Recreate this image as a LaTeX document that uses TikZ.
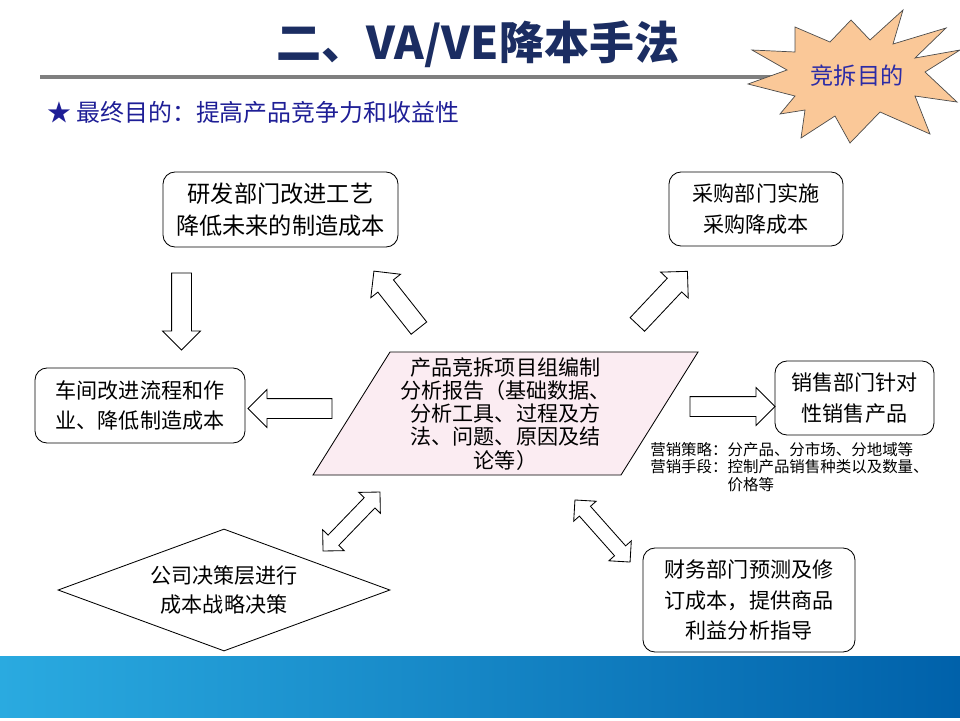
\documentclass[tikz,border=0pt]{standalone}
\usepackage{fontspec}
\setmainfont{Noto Sans CJK SC}
\usetikzlibrary{shapes.geometric,shapes.arrows}
\definecolor{titleblue}{HTML}{1B2D62}
\definecolor{starblue}{HTML}{1E1E96}
\definecolor{burst}{HTML}{FAC898}
\definecolor{burstink}{HTML}{2B2BA6}
\definecolor{rulegray}{HTML}{7F7F7F}
\definecolor{reportpink}{HTML}{FBECF2}
\definecolor{bandl}{HTML}{2AAAE0}
\definecolor{bandr}{HTML}{0061AA}
\tikzset{
  dept/.style={draw=black,fill=white,rounded corners=3mm,line width=0.6pt,align=center,inner sep=0pt,font=\fontsize{15}{21.5}\selectfont},
  board/.style={draw=black,fill=white,diamond,shape aspect=2.72,line width=0.6pt,align=center,inner sep=0pt,font=\fontsize{15}{21}\selectfont},
  reportbox/.style={draw=black,fill=reportpink,line width=0.6pt},
  onearrow/.style={single arrow,draw=black,fill=white,line width=0.6pt,inner xsep=0pt,inner ysep=2.375mm,single arrow head extend=2.25mm,single arrow tip angle=90},
  twoarrow/.style={double arrow,draw=black,fill=white,line width=0.6pt,inner xsep=0pt,inner ysep=1.75mm,double arrow head extend=1.9mm,double arrow tip angle=90},
  burstshape/.style={draw=black!70,fill=burst,line width=0.5pt},
  note/.style={align=left,inner sep=0pt,font=\fontsize{11}{12.5}\selectfont}
}
\begin{document}
\begin{tikzpicture}[x=0.25mm,y=-0.25mm]
  \useasboundingbox (0,0) rectangle (960,720);
  \shade[left color=bandl,right color=bandr] (0,656) rectangle (960,717);

  \node[font=\fontsize{32}{36}\selectfont\bfseries,text=titleblue] (title) at (478,44) {二、VA/VE降本手法};
  \draw[rulegray,line width=1.1mm] (40,77) -- (790,77);
  \draw[burstshape] (748,84) -- (787,70) -- (752,50) -- (795,52) -- (795,27) -- (830,42) -- (851,20)
    -- (870,40) -- (903,10) -- (893,44) -- (946,28) -- (915,58) -- (960,50) -- (925,72) -- (957,102)
    -- (915,96) -- (930,134) -- (880,112) -- (850,143) -- (835,116) -- (801,138) -- (805,110)
    -- (780,114) -- (795,96) -- cycle;
  \node[text=burstink,font=\fontsize{16.5}{18}\selectfont] (goal) at (857,76) {竞拆目的};
  \node[anchor=west,text=starblue,inner sep=0pt,font=\fontsize{17}{20}\selectfont] (aim) at (47,112) {★ 最终目的：提高产品竞争力和收益性};

  \node[dept,minimum width=58.75mm,minimum height=18.75mm,font=\fontsize{16.5}{22.8}\selectfont] (rnd) at (280.5,209.5) {研发部门改进工艺\\降低未来的制造成本};
  \node[dept,minimum width=43.5mm,minimum height=18.5mm] (buy) at (756,209) {采购部门实施\\采购降成本};
  \node[dept,minimum width=52.5mm,minimum height=18.75mm] (shop) at (140,405.5) {车间改进流程和作\\业、降低制造成本};
  \node[dept,minimum width=39.75mm,minimum height=18.5mm] (sales) at (854.5,398) {销售部门针对\\性销售产品};
  \node[dept,minimum width=53mm,minimum height=26mm] (finance) at (749,600) {财务部门预测及修\\订成本，提供商品\\利益分析指导};
  \node[board,minimum width=83mm,minimum height=30.5mm] (board) at (224,590) {公司决策层进行\\成本战略决策};

  \draw[reportbox] (390,352) -- (698,352) -- (621,475) -- (313,475) -- cycle;
  \node[align=center,inner sep=0pt,font=\fontsize{15}{16.4}\selectfont] (report) at (505.5,414) {产品竞拆项目组编制\\分析报告（基础数据、\\分析工具、过程及方\\法、问题、原因及结\\论等）};
  \node[note,anchor=north west] (mkt) at (650,442) {营销策略：分产品、分市场、分地域等\\营销手段：控制产品销售种类以及数量、\\\hspace*{5em}价格等};

  \node[onearrow,minimum height=19.25mm,rotate=-90] (down) at (181.5,306.5) {};
  \node[onearrow,minimum height=21mm,rotate=180] (left) at (295,408.5) {};
  \node[onearrow,minimum height=21.25mm] (right) at (727.5,406.5) {};
  \node[onearrow,minimum height=18.15mm,rotate=128.3] (upleft) at (399.5,303.5) {};
  \node[onearrow,minimum height=18.25mm,rotate=46.7] (upright) at (659,301.5) {};
  \node[twoarrow,minimum height=20.5mm,rotate=46] (lowleft) at (351.5,521.5) {};
  \node[twoarrow,minimum height=20.75mm,rotate=-48.4] (lowright) at (602.5,531) {};
\end{tikzpicture}
\end{document}
